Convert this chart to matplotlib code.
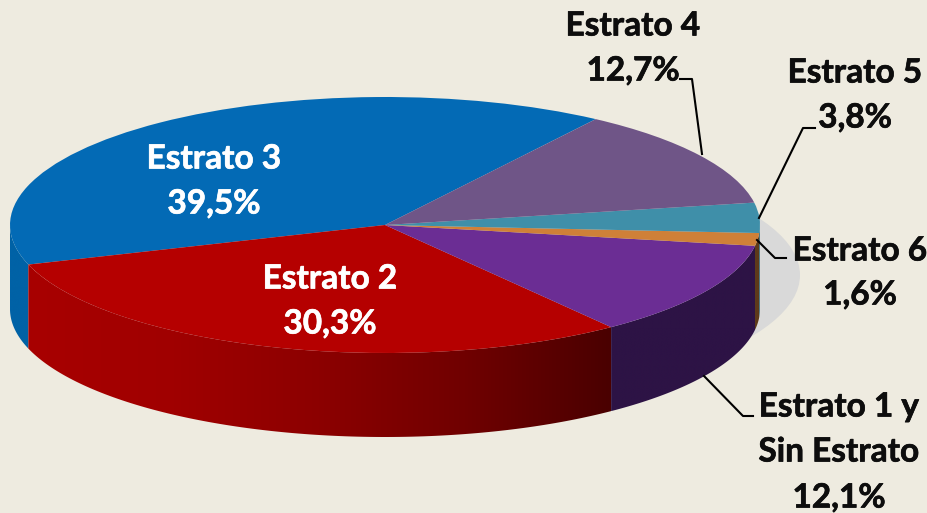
import matplotlib
matplotlib.use('Agg')
import matplotlib.pyplot as plt
import matplotlib.patheffects as pe
import numpy as np
from matplotlib.colors import LinearSegmentedColormap
from matplotlib.patches import Ellipse, Polygon

SLICE_NAMES = ['Estrato 3', 'Estrato 2', 'Estrato 1 y\nSin Estrato', 'Estrato 6', 'Estrato 5', 'Estrato 4']
SLICE_VALUES = [39.5, 30.3, 12.1, 1.6, 3.8, 12.7]
VALUE_LABELS = ['39,5%', '30,3%', '12,1%', '1,6%', '3,8%', '12,7%']

TOP_COLORS = ['#036ab5', '#b50000', '#6b2d94', '#cf8038', '#3f8fa9', '#6f5587']
WALL_COLORS = [
    ['#0062a6', '#0062a6'],
    ['#a80000', '#a00000', '#8c0000', '#700000', '#4a0000'],
    ['#2d1345', '#2d1345'],
    ['#5e3a1a', '#5e3a1a'],
    ['#2a6678', '#2a6678'],
    ['#4a3a5c', '#4a3a5c'],
]

BACKGROUND = '#eeebe0'
WIDTH, HEIGHT = 928, 513
CENTER_X, CENTER_Y = 385, 225
RADIUS_X, RADIUS_Y = 375, 128
DEPTH = 84 / RADIUS_Y
START_ANGLE = 55.8


def to_x(px):
    return (px - CENTER_X) / RADIUS_X


def to_y(py):
    return (CENTER_Y - py) / RADIUS_Y


def draw_wall(ax, angle_0, angle_1, colors):
    # only the front half of the rim is visible
    angle_0, angle_1 = max(angle_0, 180), min(angle_1, 360)
    if angle_1 <= angle_0:
        return
    t = np.radians(np.linspace(angle_0, angle_1, 120))
    xs, ys = np.cos(t), np.sin(t)
    outline = np.column_stack([np.r_[xs, xs[::-1]], np.r_[ys, ys[::-1] - DEPTH]])
    clip = Polygon(outline, closed=True, transform=ax.transData, facecolor='none', edgecolor='none')
    ax.add_patch(clip)
    cmap = LinearSegmentedColormap.from_list('wall', colors)
    image = ax.imshow(
        np.linspace(0, 1, 256).reshape(1, -1),
        cmap=cmap,
        aspect='auto',
        extent=(xs.min(), xs.max(), ys.min() - DEPTH, ys.max()),
        zorder=1,
    )
    image.set_clip_path(clip)


plt.rcParams['font.family'] = ['Lato', 'DejaVu Sans']

fig = plt.figure(figsize=(WIDTH / 100, HEIGHT / 100), dpi=100, facecolor=BACKGROUND)
ax = fig.add_axes([0, 0, 1, 1], facecolor=BACKGROUND)

wedges, _ = ax.pie(
    SLICE_VALUES,
    colors=TOP_COLORS,
    startangle=START_ANGLE,
    counterclock=True,
    wedgeprops={'linewidth': 0},
)
for wedge in wedges:
    wedge.set_zorder(2)

ax.add_patch(Ellipse((to_x(425), to_y(275)), 2, 250 / RADIUS_Y, facecolor='#d9d9d9', edgecolor='none', zorder=0))

angle = START_ANGLE
for value, colors in zip(SLICE_VALUES, WALL_COLORS):
    next_angle = angle + value * 3.6
    draw_wall(ax, angle, next_angle, colors)
    angle = next_angle

ax.set_aspect('auto')
ax.set_xlim(to_x(0), to_x(WIDTH))
ax.set_ylim(to_y(HEIGHT), to_y(0))
ax.axis('off')

# leader lines
LEADERS = [
    [(680, 79), (692, 79), (702, 154)],
    [(815, 128), (803, 128), (759, 218)],
    [(757, 240), (775, 258), (786, 258)],
    [(704, 376), (743, 416), (753, 416)],
]
for leader in LEADERS:
    ax.plot([to_x(p[0]) for p in leader], [to_y(p[1]) for p in leader], color='black', lw=1.5, zorder=3)

# (x, y of name line, y of value line, colour)
LABEL_STYLE = [
    (214, [159], 204, 'white'),
    (330, [279], 324, 'white'),
    (839, [407, 452], 498, '#0d0d0d'),
    (860, [251], 295, '#0d0d0d'),
    (855, [73], 118, '#0d0d0d'),
    (633, [26], 71, '#0d0d0d'),
]


def put_label(x, y, text, color):
    # thin stroke because Lato bold is lighter than the original face
    ax.text(
        to_x(x), to_y(y), text, color=color, fontsize=24, fontweight='bold', ha='center', va='center', zorder=4,
        path_effects=[pe.withStroke(linewidth=0.5, foreground=color)],
    )


for name, value_label, (x, name_ys, value_y, color) in zip(SLICE_NAMES, VALUE_LABELS, LABEL_STYLE):
    for line, y in zip(name.split('\n'), name_ys):
        put_label(x, y, line, color)
    put_label(x, value_y, value_label, color)

fig.savefig('out.png', dpi=100, facecolor=BACKGROUND)
